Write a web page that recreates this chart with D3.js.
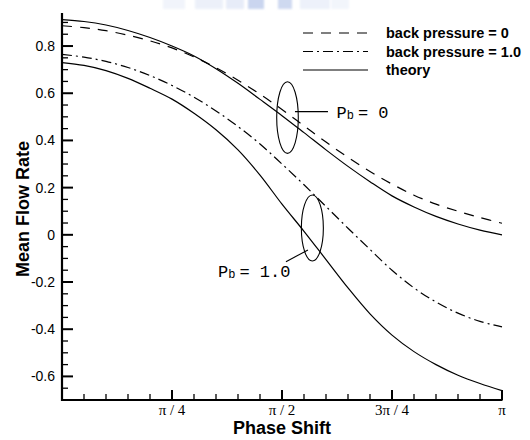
<!DOCTYPE html>
<html>
<head>
<meta charset="utf-8">
<script src="https://cdn.jsdelivr.net/npm/d3@7"></script>
<style>
  html, body { margin: 0; padding: 0; background: #fff; }
  svg { display: block; }
</style>
</head>
<body>
<svg id="chart" width="530" height="440"></svg>
<script>
// Phase shift, in units of pi
const phase = [0, 0.05, 0.1, 0.15, 0.2, 0.25, 0.3, 0.35, 0.4, 0.45, 0.5,
               0.55, 0.6, 0.65, 0.7, 0.75, 0.8, 0.85, 0.9, 0.95, 1.0];

// Mean flow rate, back pressure = 0 (simulation)
const bp0 = [0.886, 0.878, 0.865, 0.846, 0.822, 0.792, 0.754, 0.708, 0.655, 0.596, 0.531,
             0.462, 0.393, 0.328, 0.268, 0.215, 0.168, 0.130, 0.100, 0.073, 0.049];
// Mean flow rate, back pressure = 1.0 (simulation)
const bp1 = [0.765, 0.753, 0.735, 0.709, 0.675, 0.633, 0.583, 0.525, 0.459, 0.385, 0.300,
             0.212, 0.120, 0.028, -0.062, -0.150, -0.225, -0.285, -0.332, -0.367, -0.390];
// Theory, Pb = 0
const theory0 = [0.912, 0.904, 0.889, 0.866, 0.836, 0.800, 0.758, 0.704, 0.642, 0.574, 0.505,
                 0.433, 0.360, 0.290, 0.225, 0.165, 0.118, 0.078, 0.046, 0.020, 0.000];
// Theory, Pb = 1.0
const theory1 = [0.730, 0.718, 0.696, 0.663, 0.621, 0.575, 0.515, 0.445, 0.360, 0.253, 0.130,
                 0.015, -0.105, -0.225, -0.335, -0.425, -0.495, -0.550, -0.595, -0.630, -0.660];

const xTickValues = [0.25, 0.5, 0.75, 1.0];
const xTickLabels = ["\u03c0 / 4", "\u03c0 / 2", "3\u03c0 / 4", "\u03c0"];
const yTickValues = [-0.6, -0.4, -0.2, 0, 0.2, 0.4, 0.6, 0.8];
const yTickLabels = ["-0.6", "-0.4", "-0.2", "0", "0.2", "0.4", "0.6", "0.8"];

const legendLabels = ["back pressure = 0", "back pressure = 1.0", "theory"];

const svg = d3.select("#chart");

const x = d3.scaleLinear().domain([0, 1]).range([62, 502]);
const y = d3.scaleLinear().domain([-0.7, 0.94]).range([400, 13]);

// faint banner at the very top
const banner = svg.append("g").attr("opacity", 0.55);
const defs = svg.append("defs");
defs.append("filter").attr("id", "soft")
  .append("feGaussianBlur").attr("stdDeviation", 1.2);
[[163, 22, "#e6ecf8"], [195, 28, "#dde5f5"], [226, 18, "#d4def3"],
 [248, 16, "#9fb4e2"], [278, 14, "#a7bbe5"], [300, 30, "#dfe6f6"], [331, 18, "#e8edf9"]]
  .forEach(([bx, bw, c]) => {
    banner.append("rect").attr("x", bx).attr("y", -2).attr("width", bw).attr("height", 11)
      .attr("fill", c).attr("filter", "url(#soft)");
  });

const line = d3.line()
  .x((d, i) => x(phase[i]))
  .y(d => y(d))
  .curve(d3.curveCatmullRom.alpha(0.5));

const plot = svg.append("g");
const series = [
  { values: bp0, dash: "10,8" },
  { values: bp1, dash: "10,4,2,4" },
  { values: theory0, dash: null },
  { values: theory1, dash: null }
];
series.forEach(s => {
  plot.append("path")
    .attr("d", line(s.values))
    .attr("fill", "none")
    .attr("stroke", "#000")
    .attr("stroke-width", 1.2)
    .attr("stroke-dasharray", s.dash);
});

// Axes: ticks pointing into the plot
const minorX = d3.range(1, 20).map(k => k / 20).filter(v => !xTickValues.includes(Math.round(v * 100) / 100));
const minorY = d3.range(-0.65, 0.94, 0.05).map(v => Math.round(v * 100) / 100)
  .filter(v => !yTickValues.some(t => Math.abs(t - v) < 1e-6));

const axes = svg.append("g").attr("stroke", "#000");
minorX.forEach(v => {
  axes.append("line").attr("x1", x(v)).attr("x2", x(v)).attr("y1", 400).attr("y2", 394)
    .attr("stroke-width", 1.3);
});
xTickValues.forEach(v => {
  axes.append("line").attr("x1", x(v)).attr("x2", x(v)).attr("y1", 400).attr("y2", 390)
    .attr("stroke-width", 2);
});
minorY.forEach(v => {
  axes.append("line").attr("x1", 62).attr("x2", 68).attr("y1", y(v)).attr("y2", y(v))
    .attr("stroke-width", 1.3);
});
yTickValues.forEach(v => {
  axes.append("line").attr("x1", 62).attr("x2", 73).attr("y1", y(v)).attr("y2", y(v))
    .attr("stroke-width", 2);
});
axes.append("line").attr("x1", 62).attr("x2", 62).attr("y1", 13).attr("y2", 401)
  .attr("stroke-width", 2.2);
axes.append("line").attr("x1", 61).attr("x2", 502.5).attr("y1", 400).attr("y2", 400)
  .attr("stroke-width", 2.2);

const yLab = svg.append("g")
  .attr("font-family", "'Liberation Sans', Arial, sans-serif")
  .attr("font-size", 14)
  .attr("text-anchor", "end");
yTickValues.forEach((v, i) => {
  yLab.append("text").attr("x", 55).attr("y", y(v)).attr("dy", "0.36em").text(yTickLabels[i]);
});

const xLab = svg.append("g")
  .attr("font-family", "'Liberation Serif', 'Times New Roman', serif")
  .attr("font-size", 15)
  .attr("text-anchor", "middle");
xTickValues.forEach((v, i) => {
  xLab.append("text").attr("x", x(v)).attr("y", 415).text(xTickLabels[i]);
});

svg.append("text")
  .attr("x", 282).attr("y", 434)
  .attr("text-anchor", "middle")
  .attr("font-family", "'Liberation Sans', Arial, sans-serif")
  .attr("font-weight", "bold").attr("font-size", 18)
  .text("Phase Shift");

svg.append("text")
  .attr("transform", "translate(29,209) rotate(-90)")
  .attr("text-anchor", "middle")
  .attr("font-family", "'Liberation Sans', Arial, sans-serif")
  .attr("font-weight", "bold").attr("font-size", 18)
  .text("Mean Flow Rate");

// Legend
const legend = svg.append("g");
const legendDash = ["10,8", "10,4,2,4", null];
legendLabels.forEach((lab, i) => {
  const ly = 33 + i * 18.5;
  legend.append("line").attr("x1", 303).attr("x2", 368).attr("y1", ly).attr("y2", ly)
    .attr("stroke", "#000").attr("stroke-width", 1.2)
    .attr("stroke-dasharray", legendDash[i]);
  legend.append("text").attr("x", 386).attr("y", ly).attr("dy", "0.35em")
    .attr("font-family", "'Liberation Sans', Arial, sans-serif")
    .attr("font-weight", "bold").attr("font-size", 14.5)
    .text(lab);
});

// Annotations marking the two pressure groups
const note = svg.append("g").attr("fill", "none").attr("stroke", "#000").attr("stroke-width", 1.1);
note.append("ellipse").attr("cx", x(0.5125)).attr("cy", y(0.497))
  .attr("rx", 10.8).attr("ry", 35.8);
note.append("line").attr("x1", x(0.5295)).attr("x2", x(0.6045))
  .attr("y1", y(0.522)).attr("y2", y(0.522));
note.append("ellipse").attr("cx", x(0.569)).attr("cy", y(0.029))
  .attr("rx", 11).attr("ry", 33);
note.append("line").attr("x1", x(0.509)).attr("y1", y(-0.114))
  .attr("x2", x(0.559)).attr("y2", y(-0.064));

function pbLabel(px, py, value) {
  const t = svg.append("text")
    .attr("x", px).attr("y", py)
    .attr("font-family", "'Liberation Mono', 'Courier New', monospace")
    .attr("font-size", 17)
    .attr("fill", "#000")
    .style("white-space", "pre");
  t.append("tspan").text("P");
  t.append("tspan").attr("font-size", 12).attr("dy", 1).text("b");
  t.append("tspan").attr("dx", 4).attr("dy", -1).text("= " + value);
}
pbLabel(x(0.624), y(0.495), "0");
pbLabel(x(0.3545), y(-0.179), "1.0");
</script>
</body>
</html>
